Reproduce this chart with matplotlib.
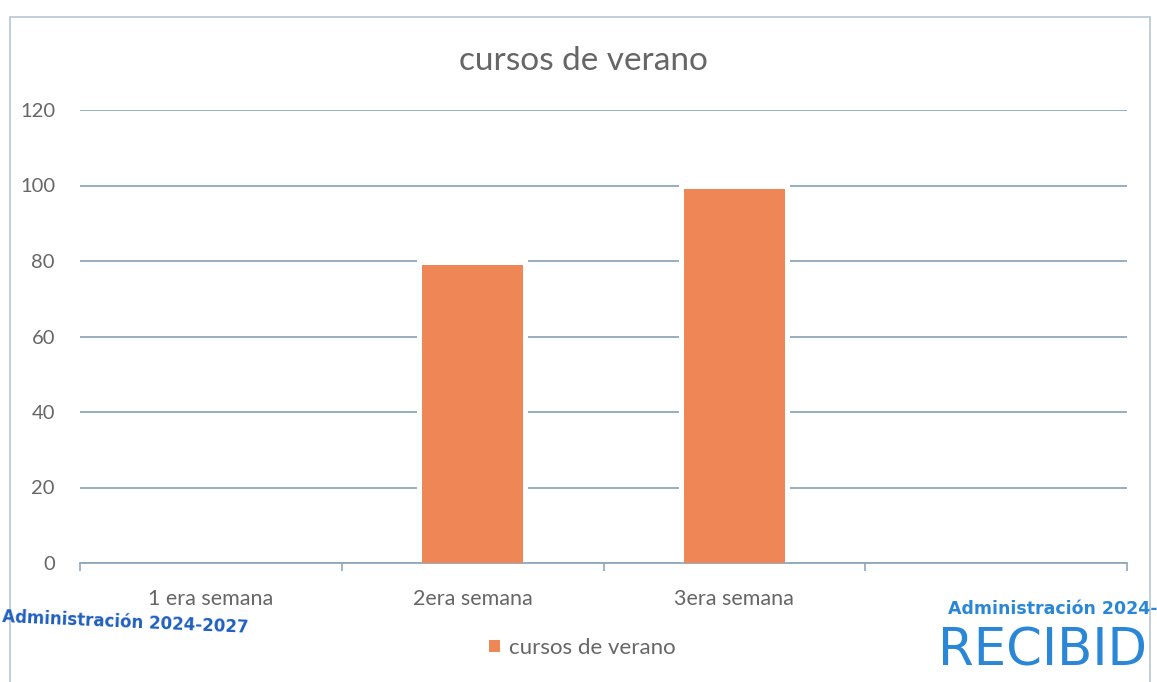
import matplotlib.pyplot as plt
from matplotlib.patches import Rectangle

# datos del grafico
categorias = ["1 era semana", "2era semana", "3era semana", ""]
valores = [0, 79, 99, 0]
serie = "cursos de verano"
titulo = "cursos de verano"
y_ticks = [0, 20, 40, 60, 80, 100, 120]

plt.rcParams['font.family'] = ['Lato', 'DejaVu Sans']
gris = "#666666"
naranja = "#EE8755"
linea = "#8FA8BD"

fig = plt.figure(figsize=(11.57, 6.82), dpi=100)
ax = fig.add_axes([80 / 1157, 1 - 563 / 682, 1047 / 1157, 453 / 682])

# marco del area del grafico
fig.patches.append(Rectangle((10 / 1157, -0.05), 1140 / 1157, 1 - 17 / 682 + 0.05,
                             transform=fig.transFigure, fill=False,
                             edgecolor="#b8c6d2", linewidth=1.2))

x = list(range(len(categorias)))
ax.set_axisbelow(True)
ax.yaxis.grid(True, color=linea, linewidth=1.3)
# hueco blanco alrededor de las barras (como en la imagen)
ax.bar(x, [v + 1.5 if v > 0 else 0 for v in valores], width=0.425,
       color="white", zorder=2)
ax.bar(x, valores, width=0.385, color=naranja, zorder=3, label=serie)

ax.set_xlim(-0.5, len(categorias) - 0.5)
ax.set_ylim(0, 120)
ax.set_yticks(y_ticks)
ax.tick_params(axis='y', length=0, pad=18, labelsize=14.5, labelcolor=gris)

ax.set_xticks([i - 0.5 for i in range(len(categorias) + 1)])
ax.set_xticklabels([])
ax.set_xticks(x, minor=True)
ax.set_xticklabels(categorias, minor=True)
ax.tick_params(axis='x', which='major', length=6, color=linea, width=1.2)
ax.tick_params(axis='x', which='minor', length=0, pad=19, labelsize=15.5,
               labelcolor=gris)

for s in ['top', 'right', 'left']:
    ax.spines[s].set_visible(False)
ax.spines['bottom'].set_color(linea)
ax.spines['bottom'].set_linewidth(1.3)

fig.text(583 / 1157, 1 - 61 / 682, titulo, ha='center', va='center',
         fontsize=24, color=gris)

ax.legend(loc='center', bbox_to_anchor=(582 / 1157, 1 - 648 / 682),
          bbox_transform=fig.transFigure, frameon=False, fontsize=16,
          handlelength=0.5, handleheight=0.5, handletextpad=0.4,
          labelcolor=gris)

# sellos del documento escaneado
fig.text(2 / 1157, 1 - 622 / 682, "Administración 2024-2027", fontsize=12,
         color="#1f5fbf", fontweight='bold', rotation=-2.5, ha='left',
         va='center', family='DejaVu Sans')
fig.text(948 / 1157, 1 - 609 / 682, "Administración 2024-", fontsize=12.5,
         color="#2a86d6", fontweight='bold', ha='left', va='center',
         family='DejaVu Sans')
fig.text(938 / 1157, 1 - 652 / 682, "RECIBID", fontsize=37,
         color="#2a86d6", ha='left', va='center', family='DejaVu Sans')

fig.savefig("out.png", dpi=100)
